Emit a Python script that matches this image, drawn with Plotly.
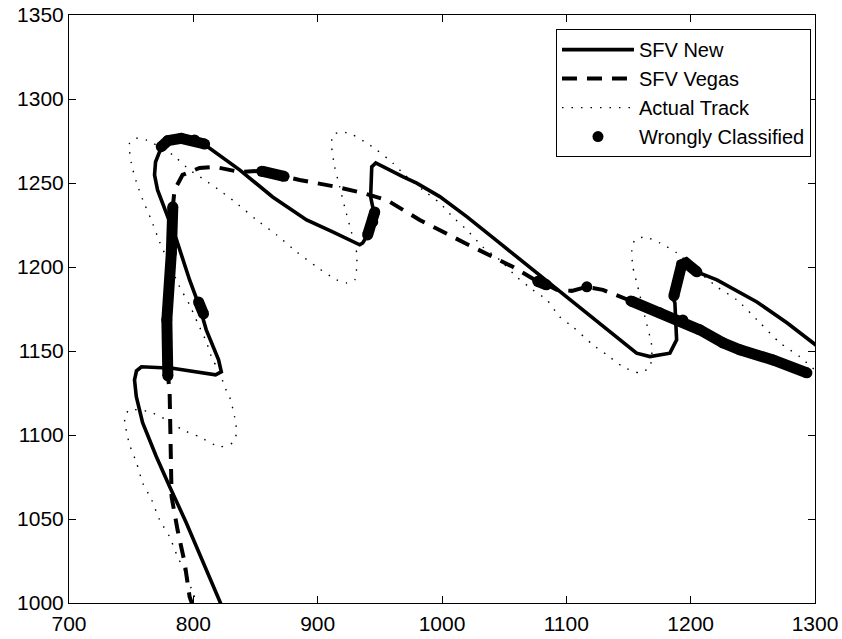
import plotly.graph_objects as go

# SFV New track (solid)
new_x = [823.1, 807.4, 794.3, 780.9, 770.2, 759.2, 754.1, 752.7, 754.3, 758.3, 778.2, 783.3, 817.9, 822.5,
         820.3, 810.4, 805.0, 797.0, 786.5, 779.3, 771.2, 768.8, 769.6, 772.8, 779.3, 790.3, 801.0, 811.5,
         837.2, 863.8, 891.1, 912.1, 933.8, 936.2, 940.2, 945.1, 942.6, 943.5, 946.7, 968.4, 979.7, 998.2,
         1019.9, 1046.5, 1073.0, 1100.4, 1126.9, 1156.5, 1167.2, 1183.3, 1188.7, 1187.3, 1185.7, 1192.7,
         1196.2, 1205.0, 1221.1, 1253.3, 1277.4, 1300.0, 1308.0]
new_y = [997.8, 1025.8, 1047.8, 1069.4, 1087.2, 1107.3, 1122.9, 1132.8, 1138.2, 1140.6, 1140.3, 1139.7, 1135.8, 1137.6,
         1144.7, 1162.6, 1176.3, 1192.3, 1216.1, 1229.8, 1245.9, 1254.8, 1262.5, 1268.5, 1275.0, 1276.6, 1275.6, 1271.6,
         1257.8, 1241.7, 1228.0, 1220.9, 1213.2, 1214.3, 1219.1, 1232.8, 1241.7, 1259.6, 1261.9, 1253.8, 1249.9, 1241.9,
         1230.0, 1214.2, 1198.3, 1182.2, 1166.5, 1148.7, 1146.7, 1148.7, 1156.6, 1178.7, 1181.6, 1201.3,
         1202.4, 1197.1, 1192.3, 1179.2, 1166.8, 1153.7, 1149.4]

# SFV Vegas track (dashed)
vegas_x = [799.8, 797.0, 793.0, 787.3, 782.5, 782.1, 781.3, 780.9, 779.5, 778.7, 782.3, 783.5, 784.9, 791.3,
           805.0, 817.1, 837.2, 853.3, 875.0, 885.5, 915.3, 936.2, 955.5, 982.1, 1018.3, 1056.9, 1076.2,
           1084.3, 1092.3, 1104.4, 1116.5, 1129.4, 1151.9, 1175.2, 1193.7, 1207.4, 1225.9, 1239.6, 1266.2, 1293.5]
vegas_y = [997.8, 1003.7, 1024.0, 1043.6, 1063.2, 1077.5, 1103.1, 1126.9, 1135.2, 1168.5, 1208.4, 1235.8, 1245.9, 1254.8,
           1259.0, 1259.6, 1256.6, 1257.2, 1253.6, 1251.8, 1247.7, 1244.1, 1239.9, 1228.0, 1214.3, 1200.1, 1191.7,
           1189.4, 1186.4, 1185.8, 1188.2, 1186.4, 1179.8, 1172.7, 1168.5, 1162.6, 1154.9, 1150.7, 1144.7, 1137.0]

# Actual track (dotted)
track_x = [804.5, 799.4, 795.4, 787.3, 780.9, 772.8, 766.4, 759.2, 754.3, 748.7, 745.5, 744.7, 748.7, 764.8,
           778.5, 791.3, 805.0, 821.1, 831.6, 834.8, 833.2, 829.2, 825.1, 822.5, 819.5, 815.5, 810.4, 803.4,
           797.0, 788.9, 779.3, 772.8, 766.2, 759.4, 754.1, 750.1, 748.7, 754.1, 762.1, 770.2, 783.5, 797.0,
           809.1, 822.5, 833.2, 850.9, 867.0, 883.1, 899.2, 915.3, 923.3, 929.8, 931.4, 931.4, 928.2, 921.7,
           917.7, 913.7, 911.3, 912.1, 920.1, 928.2, 939.4, 947.5, 960.4, 970.0, 984.5, 998.2, 1008.6, 1019.9,
           1032.8, 1046.5, 1060.1, 1073.0, 1084.3, 1094.8, 1105.2, 1121.3, 1132.6, 1145.5, 1159.1, 1167.2,
           1168.8, 1163.2, 1157.5, 1153.5, 1152.7, 1155.1, 1163.2, 1175.2, 1188.9, 1201.8, 1221.1, 1237.2,
           1255.7, 1271.8, 1287.9, 1301.6]
track_y = [998.5, 1006.1, 1015.6, 1027.5, 1039.4, 1049.6, 1061.5, 1071.6, 1083.5, 1094.2, 1104.9, 1110.8, 1115.0, 1113.8,
           1109.0, 1103.1, 1098.9, 1093.0, 1095.4, 1101.3, 1110.8, 1122.7, 1128.7, 1134.8, 1140.0, 1144.7, 1155.6, 1166.8,
           1177.5, 1188.3, 1204.2, 1215.1, 1228.0, 1239.9, 1250.8, 1261.8, 1273.7, 1276.6, 1275.6, 1272.6, 1266.7, 1257.8,
           1251.8, 1244.9, 1238.9, 1228.0, 1219.1, 1209.0, 1200.1, 1192.3, 1190.5, 1192.3, 1200.1, 1208.4, 1217.9, 1235.8,
           1247.7, 1259.6, 1271.5, 1278.6, 1280.4, 1278.6, 1273.8, 1269.7, 1261.9, 1254.8, 1245.9, 1238.1, 1229.8, 1222.1,
           1212.0, 1204.2, 1194.1, 1186.4, 1180.4, 1170.3, 1164.4, 1153.7, 1147.7, 1140.6, 1137.0, 1140.6,
           1152.5, 1170.3, 1188.2, 1200.1, 1210.2, 1216.1, 1217.9, 1214.3, 1208.4, 1200.1, 1188.2, 1180.4,
           1166.8, 1154.9, 1146.5, 1137.6]

# Wrongly classified points (segments separated by None)
wrong_x = [774.2, 779.5, 790.3, 801.0, 809.1, None,
           804.2, 808.2, None,
           940.2, 944.3, 945.9, None,
           1186.5, 1192.7, 1196.2, 1205.0, None,
           779.5, 778.7, 782.3, 783.5, None,
           855.0, 873.0, None,
           1077.0, 1084.0, None,
           1116.5, None,
           1151.9, 1175.2, 1193.7, 1207.4, 1225.9, 1239.6, 1266.2, 1293.5]
wrong_y = [1271.6, 1275.2, 1276.6, 1275.6, 1273.2, None,
           1179.2, 1172.1, None,
           1219.1, 1226.8, 1232.8, None,
           1182.8, 1201.3, 1202.4, 1197.1, None,
           1135.2, 1168.5, 1208.4, 1235.8, None,
           1257.0, 1254.0, None,
           1191.5, 1189.4, None,
           1188.2, None,
           1179.8, 1172.7, 1168.5, 1162.6, 1154.9, 1150.7, 1144.7, 1137.0]

x_ticks = [700, 800, 900, 1000, 1100, 1200, 1300]
y_ticks = [1000, 1050, 1100, 1150, 1200, 1250, 1300, 1350]

FONT = "Liberation Sans, Arial, sans-serif"

fig = go.Figure()
fig.add_trace(go.Scatter(x=new_x, y=new_y, mode="lines", name="SFV New",
                         line=dict(color="black", width=3.6)))
fig.add_trace(go.Scatter(x=vegas_x, y=vegas_y, mode="lines", name="SFV Vegas",
                         line=dict(color="black", width=4, dash="15px,10px")))
fig.add_trace(go.Scatter(x=track_x, y=track_y, mode="lines", name="Actual Track",
                         line=dict(color="black", width=1.4, dash="1.5px,8px", shape="spline", smoothing=0.6)))
fig.add_trace(go.Scatter(x=wrong_x, y=wrong_y, mode="lines+markers", showlegend=False,
                         line=dict(color="black", width=11),
                         marker=dict(color="black", size=11)))
fig.add_trace(go.Scatter(x=[None], y=[None], mode="markers", name="Wrongly Classified",
                         marker=dict(color="black", size=11)))

fig.update_layout(
    width=842, height=639,
    margin=dict(l=69, r=27, t=15, b=36, autoexpand=False),
    paper_bgcolor="white", plot_bgcolor="white",
    font=dict(family=FONT, size=20, color="black"),
    legend=dict(x=0.9946, y=0.976, xanchor="right", yanchor="top",
                bgcolor="white", bordercolor="black", borderwidth=1,
                font=dict(family=FONT, size=20, color="black"),
                itemwidth=72, tracegroupgap=0),
    showlegend=True,
)
fig.update_xaxes(range=[700, 1300], tickvals=x_ticks, ticktext=[str(v) for v in x_ticks],
                 showgrid=False, zeroline=False, showline=True, linecolor="black", linewidth=1,
                 mirror="ticks", ticks="inside", ticklen=7, tickcolor="black", tickwidth=1,
                 ticklabelstandoff=2, automargin=False,
                 tickfont=dict(family=FONT, size=21, color="black"))
fig.update_yaxes(range=[1000, 1350], tickvals=y_ticks, ticktext=[str(v) for v in y_ticks],
                 showgrid=False, zeroline=False, showline=True, linecolor="black", linewidth=1,
                 mirror="ticks", ticks="inside", ticklen=7, tickcolor="black", tickwidth=1,
                 automargin=False,
                 tickfont=dict(family=FONT, size=21, color="black"))

fig.write_html("out.html")
